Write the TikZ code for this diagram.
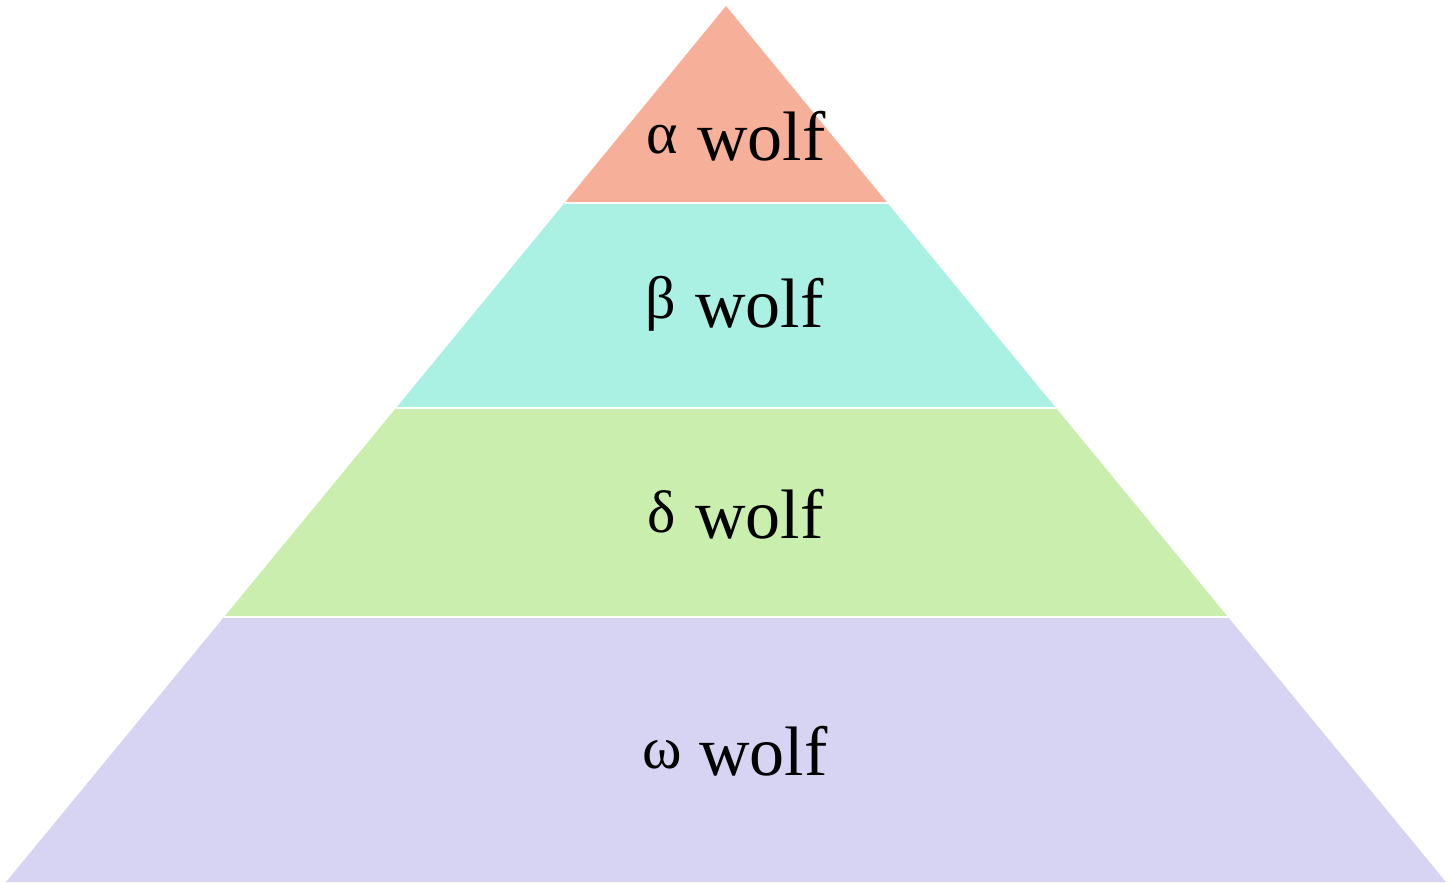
\documentclass[tikz,border=0pt]{standalone}
\usepackage{fontspec}
\setmainfont{Liberation Serif}
\definecolor{alphac}{HTML}{F6B09A}
\definecolor{betac}{HTML}{AAF0E3}
\definecolor{deltac}{HTML}{C9EEAE}
\definecolor{omegac}{HTML}{D6D4F2}
\begin{document}
\begin{tikzpicture}[x=1pt,y=-1pt,
  wolf/.style={font=\fontsize{70}{74}\selectfont,anchor=base west,inner sep=0pt},
  greek/.style={font=\fontsize{60}{64}\selectfont,anchor=base,inner sep=0pt}]
\useasboundingbox (0,0) rectangle (1452,884);
\coordinate (apex) at (726,6);
\coordinate (a1l) at (564.5,203);  \coordinate (a1r) at (887.5,203);
\coordinate (a2l) at (396,408);    \coordinate (a2r) at (1056,408);
\coordinate (a3l) at (224,617);    \coordinate (a3r) at (1228,617);
\coordinate (bl) at (6,882);       \coordinate (br) at (1446,882);
\fill[omegac] (a3l) -- (a3r) -- (br) -- (bl) -- cycle;
\fill[deltac] (a2l) -- (a2r) -- (a3r) -- (a3l) -- cycle;
\fill[betac] (a1l) -- (a1r) -- (a2r) -- (a2l) -- cycle;
\fill[alphac] (apex) -- (a1r) -- (a1l) -- cycle;
\draw[white,line width=2pt] (a1l) -- (a1r);
\draw[white,line width=2pt] (a2l) -- (a2r);
\draw[white,line width=2pt] (a3l) -- (a3r);
\node[greek] (ga) at (662,153) {α};
\node[wolf] (wa) at (697,160) {wolf};
\node[greek] (gb) at (661,318) {β};
\node[wolf] (wb) at (695,327) {wolf};
\node[greek] (gd) at (662,532) {δ};
\node[wolf] (wd) at (695,538) {wolf};
\node[greek] (go) at (662,768) {ω};
\node[wolf] (wo) at (699,775) {wolf};
\end{tikzpicture}
\end{document}
